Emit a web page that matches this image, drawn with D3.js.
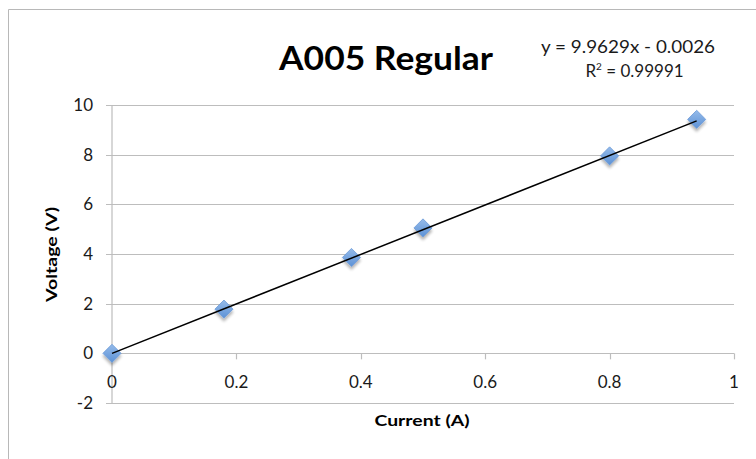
<!DOCTYPE html>
<html><head><meta charset="utf-8">
<script src="https://cdn.jsdelivr.net/npm/d3@7"></script>
<style>
html,body{margin:0;padding:0;background:#fff;}
svg{display:block;font-family:Lato,"Open Sans",sans-serif;}
</style></head>
<body>
<svg id="c" width="756" height="459"></svg>
<script>
const current = [0, 0.18, 0.385, 0.5, 0.8, 0.94];
const voltage = [0, 1.78, 3.86, 5.05, 7.95, 9.42];
const xTicks = [0, 0.2, 0.4, 0.6, 0.8, 1];
const yTicks = [-2, 0, 2, 4, 6, 8, 10];
const slope = 9.9629, intercept = -0.0026;
const titleText = "A005 Regular";
const eqText = "y = 9.9629x - 0.0026";
const r2Value = "0.99991";

const svg = d3.select("#c");
const x = d3.scaleLinear().domain([0, 1]).range([112, 734]);
const y = d3.scaleLinear().domain([-2, 10]).range([403, 105]);

// outer frame
svg.append("path").attr("d", "M8.5,459 V9.5 H760").attr("fill", "none").attr("stroke", "#b8b8b8").attr("stroke-width", 1);

// horizontal gridlines
svg.append("g").selectAll("line").data(yTicks).join("line")
  .attr("x1", 106).attr("x2", x(1)).attr("y1", d => Math.round(y(d)) + 0.5).attr("y2", d => Math.round(y(d)) + 0.5)
  .attr("stroke", "#bdbdbd").attr("stroke-width", 1.2);

// y axis line
svg.append("line").attr("x1", x(0)).attr("x2", x(0)).attr("y1", y(10)).attr("y2", y(-2))
  .attr("stroke", "#bdbdbd").attr("stroke-width", 1.2);

// x axis ticks at y=0 (downward)
svg.append("g").selectAll("line").data(xTicks).join("line")
  .attr("x1", d => Math.round(x(d)) + 0.5).attr("x2", d => Math.round(x(d)) + 0.5)
  .attr("y1", y(0)).attr("y2", y(0) + 6)
  .attr("stroke", "#bdbdbd").attr("stroke-width", 1.2);

// y tick labels
svg.append("g").selectAll("text").data(yTicks).join("text")
  .attr("x", 93).attr("y", d => y(d) + 6).attr("text-anchor", "end")
  .attr("font-size", 17).attr("fill", "#1a1a1a").text(d => d);

// x tick labels
svg.append("g").selectAll("text").data(xTicks).join("text")
  .attr("x", d => x(d)).attr("y", 388).attr("text-anchor", "middle")
  .attr("font-size", 17).attr("fill", "#1a1a1a").text(d => d);

// axis titles
svg.append("text").attr("x", 422).attr("y", 426).attr("text-anchor", "middle")
  .attr("font-size", 16).attr("font-weight", "bold").attr("fill", "#000")
  .attr("textLength", 95).attr("lengthAdjust", "spacingAndGlyphs").text("Current (A)");
svg.append("text").attr("transform", "translate(57,254.5) rotate(-90)").attr("text-anchor", "middle")
  .attr("font-size", 16).attr("font-weight", "bold").attr("fill", "#000")
  .attr("textLength", 95).attr("lengthAdjust", "spacingAndGlyphs").text("Voltage (V)");

// title
svg.append("text").attr("x", 386).attr("y", 70).attr("text-anchor", "middle")
  .attr("font-size", 32).attr("font-weight", "bold").attr("fill", "#000")
  .attr("textLength", 214).attr("lengthAdjust", "spacingAndGlyphs").text(titleText);

// equation
svg.append("text").attr("x", 628).attr("y", 53).attr("text-anchor", "middle")
  .attr("font-size", 17).attr("fill", "#1a1a1a")
  .attr("textLength", 174).attr("lengthAdjust", "spacingAndGlyphs").text(eqText);
const r2 = svg.append("text").attr("x", 634.5).attr("y", 77).attr("text-anchor", "middle")
  .attr("font-size", 17).attr("fill", "#1a1a1a");
r2.append("tspan").text("R");
r2.append("tspan").attr("dy", -7).attr("font-size", 10).text("2");
r2.append("tspan").attr("dy", 7).text(" = " + r2Value);

// shadow filter
const defs = svg.append("defs");
const f = defs.append("filter").attr("id", "sh").attr("x", "-50%").attr("y", "-50%").attr("width", "200%").attr("height", "200%");
f.append("feGaussianBlur").attr("in", "SourceAlpha").attr("stdDeviation", 1.8);
f.append("feOffset").attr("dx", 0).attr("dy", 3).attr("result", "b");
f.append("feComponentTransfer").append("feFuncA").attr("type", "linear").attr("slope", 0.3);
const m = f.append("feMerge"); m.append("feMergeNode"); m.append("feMergeNode").attr("in", "SourceGraphic");
const g = defs.append("linearGradient").attr("id", "gr").attr("x1", 0).attr("y1", 0).attr("x2", 0).attr("y2", 1);
g.append("stop").attr("offset", 0).attr("stop-color", "#95bbea");
g.append("stop").attr("offset", 1).attr("stop-color", "#5d92d6");

// markers
const pts = current.map((c, i) => [c, voltage[i]]);
svg.append("g").selectAll("path").data(pts).join("path")
  .attr("d", d3.symbol().type(d3.symbolDiamond2).size(210))
  .attr("transform", d => `translate(${x(d[0])},${y(d[1])})`)
  .attr("fill", "url(#gr)").attr("stroke", "#6c9bd8").attr("stroke-width", 0.8).attr("filter", "url(#sh)");

// trendline
const tx = d3.extent(current);
svg.append("line").attr("x1", x(tx[0])).attr("y1", y(slope * tx[0] + intercept))
  .attr("x2", x(tx[1])).attr("y2", y(slope * tx[1] + intercept))
  .attr("stroke", "#000").attr("stroke-width", 1.5);
</script>
</body></html>
